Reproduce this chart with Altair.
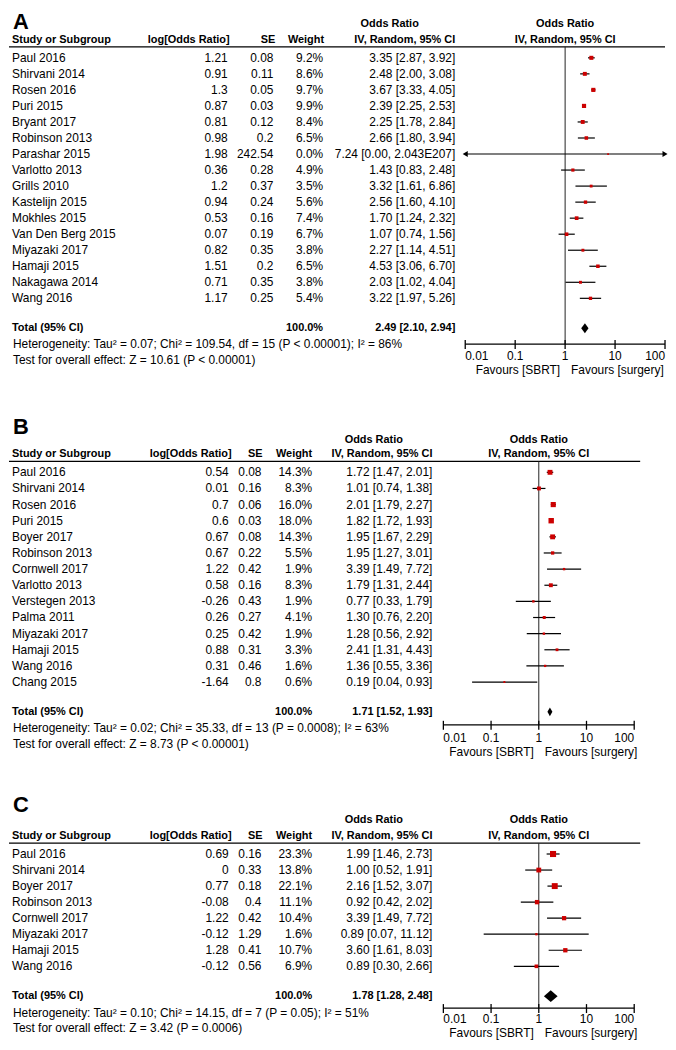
import altair as alt
import pandas as pd

FONT = "Liberation Sans, Arial, sans-serif"
RED = "#cc0000"

# ---------------- Panel A ----------------
a_studies = ["Paul 2016", "Shirvani 2014", "Rosen 2016", "Puri 2015", "Bryant 2017", "Robinson 2013",
             "Parashar 2015", "Varlotto 2013", "Grills 2010", "Kastelijn 2015", "Mokhles 2015",
             "Van Den Berg 2015", "Miyazaki 2017", "Hamaji 2015", "Nakagawa 2014", "Wang 2016"]
a_logor = [1.21, 0.91, 1.3, 0.87, 0.81, 0.98, 1.98, 0.36, 1.2, 0.94, 0.53, 0.07, 0.82, 1.51, 0.71, 1.17]
a_se = [0.08, 0.11, 0.05, 0.03, 0.12, 0.2, 242.54, 0.28, 0.37, 0.24, 0.16, 0.19, 0.35, 0.2, 0.35, 0.25]
a_weight = [9.2, 8.6, 9.7, 9.9, 8.4, 6.5, 0.0, 4.9, 3.5, 5.6, 7.4, 6.7, 3.8, 6.5, 3.8, 5.4]
a_or = [3.35, 2.48, 3.67, 2.39, 2.25, 2.66, 7.24, 1.43, 3.32, 2.56, 1.70, 1.07, 2.27, 4.53, 2.03, 3.22]
a_lo = [2.87, 2.00, 3.33, 2.25, 1.78, 1.80, 0.00, 0.83, 1.61, 1.60, 1.24, 0.74, 1.14, 3.06, 1.02, 1.97]
a_hi = [3.92, 3.08, 4.05, 2.53, 2.84, 3.94, 2.043e207, 2.48, 6.86, 4.10, 2.32, 1.56, 4.51, 6.70, 4.04, 5.26]
a_total = [2.49, 2.10, 2.94]
a_het = "Heterogeneity: Tau² = 0.07; Chi² = 109.54, df = 15 (P < 0.00001); I² = 86%"
a_test = "Test for overall effect: Z = 10.61 (P < 0.00001)"

# ---------------- Panel B ----------------
b_studies = ["Paul 2016", "Shirvani 2014", "Rosen 2016", "Puri 2015", "Boyer 2017", "Robinson 2013",
             "Cornwell 2017", "Varlotto 2013", "Verstegen 2013", "Palma 2011", "Miyazaki 2017",
             "Hamaji 2015", "Wang 2016", "Chang 2015"]
b_logor = [0.54, 0.01, 0.7, 0.6, 0.67, 0.67, 1.22, 0.58, -0.26, 0.26, 0.25, 0.88, 0.31, -1.64]
b_se = [0.08, 0.16, 0.06, 0.03, 0.08, 0.22, 0.42, 0.16, 0.43, 0.27, 0.42, 0.31, 0.46, 0.8]
b_weight = [14.3, 8.3, 16.0, 18.0, 14.3, 5.5, 1.9, 8.3, 1.9, 4.1, 1.9, 3.3, 1.6, 0.6]
b_or = [1.72, 1.01, 2.01, 1.82, 1.95, 1.95, 3.39, 1.79, 0.77, 1.30, 1.28, 2.41, 1.36, 0.19]
b_lo = [1.47, 0.74, 1.79, 1.72, 1.67, 1.27, 1.49, 1.31, 0.33, 0.76, 0.56, 1.31, 0.55, 0.04]
b_hi = [2.01, 1.38, 2.27, 1.93, 2.29, 3.01, 7.72, 2.44, 1.79, 2.20, 2.92, 4.43, 3.36, 0.93]
b_total = [1.71, 1.52, 1.93]
b_het = "Heterogeneity: Tau² = 0.02; Chi² = 35.33, df = 13 (P = 0.0008); I² = 63%"
b_test = "Test for overall effect: Z = 8.73 (P < 0.00001)"

# ---------------- Panel C ----------------
c_studies = ["Paul 2016", "Shirvani 2014", "Boyer 2017", "Robinson 2013", "Cornwell 2017",
             "Miyazaki 2017", "Hamaji 2015", "Wang 2016"]
c_logor = [0.69, 0, 0.77, -0.08, 1.22, -0.12, 1.28, -0.12]
c_se = [0.16, 0.33, 0.18, 0.4, 0.42, 1.29, 0.41, 0.56]
c_weight = [23.3, 13.8, 22.1, 11.1, 10.4, 1.6, 10.7, 6.9]
c_or = [1.99, 1.00, 2.16, 0.92, 3.39, 0.89, 3.60, 0.89]
c_lo = [1.46, 0.52, 1.52, 0.42, 1.49, 0.07, 1.61, 0.30]
c_hi = [2.73, 1.91, 3.07, 2.02, 7.72, 11.12, 8.03, 2.66]
c_total = [1.78, 1.28, 2.48]
c_het = "Heterogeneity: Tau² = 0.10; Chi² = 14.15, df = 7 (P = 0.05); I² = 51%"
c_test = "Test for overall effect: Z = 3.42 (P = 0.0006)"

# ---------------- shared labels ----------------
tick_values = [0.01, 0.1, 1, 10, 100]
tick_labels = ["0.01", "0.1", "1", "10", "100"]
hdr_study = "Study or Subgroup"
hdr_logor = "log[Odds Ratio]"
hdr_se = "SE"
hdr_weight = "Weight"
hdr_or1 = "Odds Ratio"
hdr_or2 = "IV, Random, 95% CI"
total_label = "Total (95% CI)"
total_weight = "100.0%"
fav_left = "Favours [SBRT]"
fav_right = "Favours [surgery]"


def fmt_num(v):
    return f"{v:.2f}" if v < 1e4 else f"{v:.3E}".replace("E+", "E")


def ci_text(o, l, h):
    return f"{o:.2f} [{l:.2f}, {fmt_num(h)}]"


def txt(text, x, y, align="left", bold=False, size=12):
    return alt.Chart(pd.DataFrame({"t": [text]})).mark_text(
        align=align, baseline="middle", font=FONT, fontSize=size,
        fontWeight="bold" if bold else "normal", color="black"
    ).encode(x=alt.value(x), y=alt.value(y), text="t:N")


def panel(letter, studies, logor, se, weight, orv, lo, hi, total, het, test, g):
    top = g["top"]
    n = len(studies)

    def X(px):
        return px - 8

    def Y(py):
        return py - top

    xmin, xmax = tick_values[0], tick_values[-1]
    df = pd.DataFrame({
        "row": list(range(n)),
        "study": studies,
        "logor_t": [f"{v:g}" for v in logor],
        "se_t": [f"{v:g}" for v in se],
        "wt_t": [f"{w:.1f}%" for w in weight],
        "ci_t": [ci_text(o, l, h) for o, l, h in zip(orv, lo, hi)],
        "or": orv,
        "weight": weight,
        "lo_p": [max(l, xmin) for l in lo],
        "hi_p": [min(h, xmax) for h in hi],
    })
    xs = alt.Scale(type="log", domain=[xmin, xmax], range=[X(g["fx0"]), X(g["fx1"])])
    ys = alt.Scale(type="linear", domain=[0, n - 1],
                   range=[Y(g["y0"]), Y(g["y0"] + (n - 1) * g["dy"])], zero=False, nice=False)
    yrow = alt.Y("row:Q", scale=ys, axis=None)

    def rowpos(py):
        return (py - g["y0"]) / g["dy"]

    base = alt.Chart(df)
    layers = []

    # letter and headers
    layers.append(txt(letter, X(12), Y(g["letter"]), bold=True, size=22))
    layers.append(txt(hdr_or1, X(g["or1c"]), Y(g["h1"]), "center", True, 11))
    layers.append(txt(hdr_study, X(11), Y(g["h2"]), "left", True, 11))
    layers.append(txt(hdr_logor, X(g["hlogor"]), Y(g["h2"]), "right", True, 11))
    layers.append(txt(hdr_se, X(g["hse"]), Y(g["h2"]), "right", True, 11))
    layers.append(txt(hdr_weight, X(g["hwt"]), Y(g["h2"]), "right", True, 11))
    layers.append(txt(hdr_or2, X(g["orc"]), Y(g["h2"]), "right", True, 11))

    one = alt.Chart(pd.DataFrame({"v": [1]}))
    for hy, label in [(g["h1"], hdr_or1), (g["h2"], hdr_or2)]:
        layers.append(one.mark_text(align="center", baseline="middle", font=FONT, fontSize=11,
                                    fontWeight="bold", color="black", text=label).encode(
            x=alt.X("v:Q", scale=xs, axis=None), y=alt.value(Y(hy))))

    # header line
    layers.append(one.mark_rule(color="black", strokeWidth=1.2).encode(
        x=alt.value(0), x2=alt.value(min(X(g["hline_x2"]), 660)), y=alt.value(Y(g["hline"]))))

    # vertical line of no effect
    layers.append(one.mark_rule(color="#222222", strokeWidth=1).encode(
        x=alt.X("v:Q", scale=xs, axis=None), y=alt.value(Y(g["hline"])), y2=alt.value(Y(g["axis"]))))

    # table columns
    def col(field, xpx, align):
        return base.mark_text(align=align, baseline="middle", font=FONT, fontSize=12, color="black").encode(
            x=alt.value(X(xpx)), y=yrow, text=f"{field}:N")

    layers.append(col("study", 11, "left"))
    layers.append(col("logor_t", g["clogor"], "right"))
    layers.append(col("se_t", g["cse"], "right"))
    layers.append(col("wt_t", g["cwt"], "right"))
    layers.append(col("ci_t", g["orc"], "right"))

    # confidence intervals
    layers.append(base.mark_rule(color="black", strokeWidth=1.2).encode(
        x=alt.X("lo_p:Q", scale=xs, axis=None), x2="hi_p:Q", y=yrow))

    # arrows for CIs that leave the plotting range
    arrows_l = [(i, xmin) for i, l in enumerate(lo) if l < xmin]
    arrows_r = [(i, xmax) for i, h in enumerate(hi) if h > xmax]
    if arrows_l:
        layers.append(alt.Chart(pd.DataFrame(arrows_l, columns=["row", "x"])).mark_point(
            shape="triangle-left", filled=True, color="black", size=35, opacity=1).encode(
            x=alt.X("x:Q", scale=xs, axis=None), y=yrow))
    if arrows_r:
        layers.append(alt.Chart(pd.DataFrame(arrows_r, columns=["row", "x"])).mark_point(
            shape="triangle-right", filled=True, color="black", size=35, opacity=1).encode(
            x=alt.X("x:Q", scale=xs, axis=None), y=yrow))

    # weighted squares
    layers.append(base.mark_square(filled=True, color=RED, opacity=1).encode(
        x=alt.X("or:Q", scale=xs, axis=None), y=yrow,
        size=alt.Size("weight:Q", scale=alt.Scale(domain=[0, 25], range=[3, 40]), legend=None)))

    # total row
    t_or, t_lo, t_hi = total
    layers.append(txt(total_label, X(11), Y(g["total"]), "left", True, 11))
    layers.append(txt(total_weight, X(g["cwt"]), Y(g["total"]), "right", True, 11))
    layers.append(txt(ci_text(t_or, t_lo, t_hi), X(g["orc"]), Y(g["total"]), "right", True, 11))
    mid = rowpos(g["total"])
    up = rowpos(g["total"] - g["dh"])
    dn = rowpos(g["total"] + g["dh"])
    dia = pd.DataFrame({"x": [t_lo, t_or, t_hi], "y": [mid, up, mid], "y2": [mid, dn, mid]})
    layers.append(alt.Chart(dia).mark_area(color="black", orient="vertical", opacity=1).encode(
        x=alt.X("x:Q", scale=xs, axis=None), y=alt.Y("y:Q", scale=ys, axis=None), y2="y2:Q"))

    layers.append(txt(het, X(12), Y(g["het"]), "left", False, 12))
    layers.append(txt(test, X(12), Y(g["test"]), "left", False, 12))

    # axis
    tdf = pd.DataFrame({
        "tick": tick_values, "label": tick_labels,
        "pos": ["first"] + ["mid"] * (len(tick_values) - 2) + ["last"],
    })
    tch = alt.Chart(tdf)
    ax = alt.Chart(pd.DataFrame({"a": [tick_values[0]], "b": [tick_values[-1]]}))
    layers.append(ax.mark_rule(color="black", strokeWidth=1.3).encode(
        x=alt.X("a:Q", scale=xs, axis=None), x2="b:Q", y=alt.value(Y(g["axis"]))))
    layers.append(tch.mark_rule(color="black", strokeWidth=1.3).encode(
        x=alt.X("tick:Q", scale=xs, axis=None), y=alt.value(Y(g["axis"]) - 4), y2=alt.value(Y(g["axis"]) + 5)))
    for pos, align in [("first", "left"), ("mid", "center"), ("last", "right")]:
        layers.append(tch.transform_filter(alt.datum.pos == pos).mark_text(
            align=align, baseline="middle", font=FONT, fontSize=12, color="black").encode(
            x=alt.X("tick:Q", scale=xs, axis=None), y=alt.value(Y(g["tlab"])), text="label:N"))
    layers.append(one.mark_text(align="right", baseline="middle", font=FONT, fontSize=12,
                                color="black", dx=-5, text=fav_left).encode(
        x=alt.X("v:Q", scale=xs, axis=None), y=alt.value(Y(g["fav"]))))
    layers.append(one.mark_text(align="left", baseline="middle", font=FONT, fontSize=12,
                                color="black", dx=6, text=fav_right).encode(
        x=alt.X("v:Q", scale=xs, axis=None), y=alt.value(Y(g["fav"]))))

    return alt.layer(*layers).properties(width=660, height=g["H"])


gA = dict(top=8, H=372, letter=19, h1=21, h2=37, hline=44, hline_x2=676, y0=55, dy=16.13,
          hlogor=230, hse=276, hwt=325, or1c=391, clogor=228, cse=274, cwt=324, orc=457,
          fx0=467, fx1=668, total=327, dh=5, het=343, test=359, axis=343, tlab=355, fav=369)
gB = dict(top=380, H=385, letter=426, h1=439, h2=454, hline=461, hline_x2=643, y0=472, dy=16.23,
          hlogor=232, hse=263, hwt=313, or1c=375, clogor=229, cse=262, cwt=313, orc=434,
          fx0=445, fx1=637, total=713, dh=4.5, het=729, test=745, axis=726, tlab=739, fav=753)
s = -4
gC = dict(top=765, H=277, letter=811 + s, h1=826 + s, h2=842 + s, hline=849 + s, hline_x2=643,
          y0=860 + s, dy=16.14,
          hlogor=232, hse=263, hwt=313, or1c=375, clogor=229, cse=262, cwt=313, orc=434,
          fx0=445, fx1=637, total=999, dh=6, het=1016, test=1031, axis=1011, tlab=1022, fav=1036)

pA = panel("A", a_studies, a_logor, a_se, a_weight, a_or, a_lo, a_hi, a_total, a_het, a_test, gA)
pB = panel("B", b_studies, b_logor, b_se, b_weight, b_or, b_lo, b_hi, b_total, b_het, b_test, gB)
pC = panel("C", c_studies, c_logor, c_se, c_weight, c_or, c_lo, c_hi, c_total, c_het, c_test, gC)

chart = alt.vconcat(pA, pB, pC, spacing=0, bounds="flush").properties(
    padding=0, background="white").configure_view(strokeWidth=0, stroke="transparent")

chart.save("out.html", embed_options={"renderer": "svg", "actions": False})
